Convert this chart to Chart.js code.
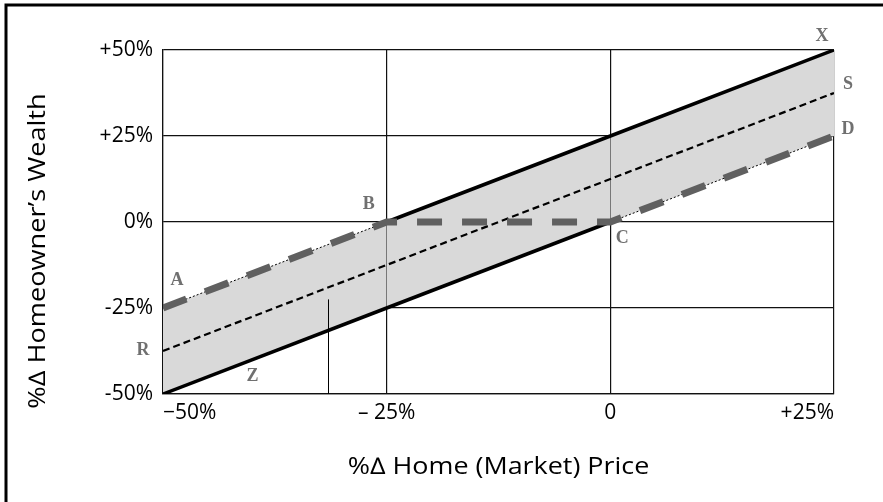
<!DOCTYPE html>
<html>
<head>
<meta charset="utf-8">
<script src="https://cdn.jsdelivr.net/npm/chart.js@4.4.1/dist/chart.umd.min.js"></script>
<style>
  html, body { margin: 0; padding: 0; background: #fff; }
  #wrap { width: 883px; height: 502px; position: relative; }
</style>
</head>
<body>
<div id="wrap"><canvas id="c"></canvas></div>
<script>
// ---- data ----
const priceChange   = [-50, -25, 0, 25];          // % change in home (market) price
const wealthX       = [-25, 0, 25, 50];           // upper bound line (A-B-X)
const wealthZ       = [-50, -25, 0, 25];          // lower bound line (Z-C-D)
const wealthS       = [-37.5, -12.5, 12.5, 37.5]; // middle dashed line (R-S)
const wealthPayoff  = [-25, 0, 0, 25];            // A-B-C-D payoff
const markerX       = [-31.5, -31.5];             // thin vertical marker
const markerY       = [-50, -22.5];
const xTickValues   = [-50, -25, 0, 25];
const xTickLabels   = ['\u221250%', '\u2013 25%', '0', '+25%'];
const yTickValues   = [-50, -25, 0, 25, 50];
const yTickLabels   = ['-50%', '-25%', '0%', '+25%', '+50%'];
const pointLabels   = ['X', 'S', 'D', 'B', 'C', 'A', 'R', 'Z'];
const pointLabelAt  = [[25, 50], [25, 37.5], [25, 25], [-25, 0], [0, 0], [-50, -25], [-50, -37.5], [-40, -45]];
const xTitle = '%\u2206 Home (Market) Price';
const yTitle = '%\u2206 Homeowner\u2019s Wealth';

const pts = (xs, ys) => xs.map((x, i) => ({ x: x, y: ys[i] }));

// label pixel offsets (style, not data)
const labelOffsets = [[-12, -14], [14, -9], [14, -7], [-18, -18], [12, 16], [14, -28], [-20, -1], [0, 0]];

const decor = {
  id: 'decor',
  afterDraw(chart) {
    const ctx = chart.ctx;
    const xs = chart.scales.x, ys = chart.scales.y;
    ctx.save();
    // point labels
    ctx.font = 'bold 18px "Liberation Serif", "DejaVu Serif", serif';
    ctx.fillStyle = '#707070';
    ctx.textAlign = 'center';
    ctx.textBaseline = 'middle';
    pointLabels.forEach((t, i) => {
      const px = xs.getPixelForValue(pointLabelAt[i][0]) + labelOffsets[i][0];
      const py = ys.getPixelForValue(pointLabelAt[i][1]) + labelOffsets[i][1];
      ctx.fillText(t, px, py);
    });
    // axis titles
    ctx.fillStyle = '#000';
    ctx.font = '23px "Open Sans", sans-serif';
    const ca = chart.chartArea;
    ctx.save();
    ctx.translate((ca.left + ca.right) / 2, 467);
    ctx.scale(1.17, 1);
    ctx.fillText(xTitle, 0, 0);
    ctx.restore();
    ctx.save();
    ctx.translate(38, chart.height / 2);
    ctx.rotate(-Math.PI / 2);
    ctx.scale(1.18, 1);
    ctx.fillText(yTitle, 0, 0);
    ctx.restore();
    // outer frame (left & top)
    ctx.strokeStyle = '#000';
    ctx.lineWidth = 3;
    ctx.beginPath();
    ctx.moveTo(6, 502);
    ctx.lineTo(6, 5);
    ctx.lineTo(883, 5);
    ctx.stroke();
    ctx.restore();
  }
};

new Chart(document.getElementById('c'), {
  type: 'line',
  data: {
    datasets: [
      {
        label: 'payoff',
        data: pts(priceChange, wealthPayoff),
        borderColor: '#606060',
        borderWidth: 7,
        borderDash: [25, 20],
        borderCapStyle: 'butt',
        pointRadius: 0,
        fill: false,
        order: 0
      },
      {
        label: 'S',
        data: pts(priceChange, wealthS),
        borderColor: '#000',
        borderWidth: 2.2,
        borderDash: [7, 4],
        pointRadius: 0,
        fill: false,
        order: 1
      },
      {
        label: 'marker',
        data: pts(markerX, markerY),
        borderColor: '#000',
        borderWidth: 1,
        pointRadius: 0,
        fill: false,
        order: 2
      },
      {
        label: 'X',
        data: pts(priceChange, wealthX),
        borderColor: '#000',
        borderWidth: 3.5,
        pointRadius: 0,
        fill: { target: 4 },
        backgroundColor: '#d9d9d9',
        segment: {
          borderWidth: c => c.p0DataIndex === 0 ? 1 : 3.5,
          borderDash: c => c.p0DataIndex === 0 ? [2, 2] : undefined
        },
        order: 3
      },
      {
        label: 'Z',
        data: pts(priceChange, wealthZ),
        borderColor: '#000',
        borderWidth: 3.5,
        pointRadius: 0,
        fill: false,
        segment: {
          borderWidth: c => c.p0DataIndex === 2 ? 1 : 3.5,
          borderDash: c => c.p0DataIndex === 2 ? [2, 2] : undefined
        },
        order: 4
      }
    ]
  },
  options: {
    responsive: true,
    maintainAspectRatio: false,
    animation: false,
    devicePixelRatio: 1,
    layout: { padding: { top: 50, right: 49, left: 0, bottom: 0 } },
    plugins: {
      legend: { display: false },
      tooltip: { enabled: false },
      filler: { drawTime: 'beforeDatasetsDraw' }
    },
    scales: {
      x: {
        type: 'linear',
        min: -50, max: 25,
        afterFit: s => { s.height = 108; },
        afterBuildTicks: s => { s.ticks = xTickValues.map(v => ({ value: v })); },
        grid: { color: '#111', lineWidth: 1.2, drawTicks: false },
        border: { display: true, color: '#111', width: 1.2 },
        ticks: {
          align: 'inner',
          padding: 6,
          color: '#000',
          font: { family: '"Open Sans", sans-serif', size: 21 },
          callback: v => xTickLabels[xTickValues.indexOf(v)]
        }
      },
      y: {
        min: -50, max: 50,
        afterFit: s => { s.width = 163; },
        afterBuildTicks: s => { s.ticks = yTickValues.map(v => ({ value: v })); },
        grid: { color: '#111', lineWidth: 1.2, drawTicks: false },
        border: { display: true, color: '#111', width: 1.2 },
        ticks: {
          padding: 10,
          color: '#000',
          font: { family: '"Open Sans", sans-serif', size: 21 },
          callback: v => yTickLabels[yTickValues.indexOf(v)]
        }
      }
    }
  },
  plugins: [decor]
});
</script>
</body>
</html>
